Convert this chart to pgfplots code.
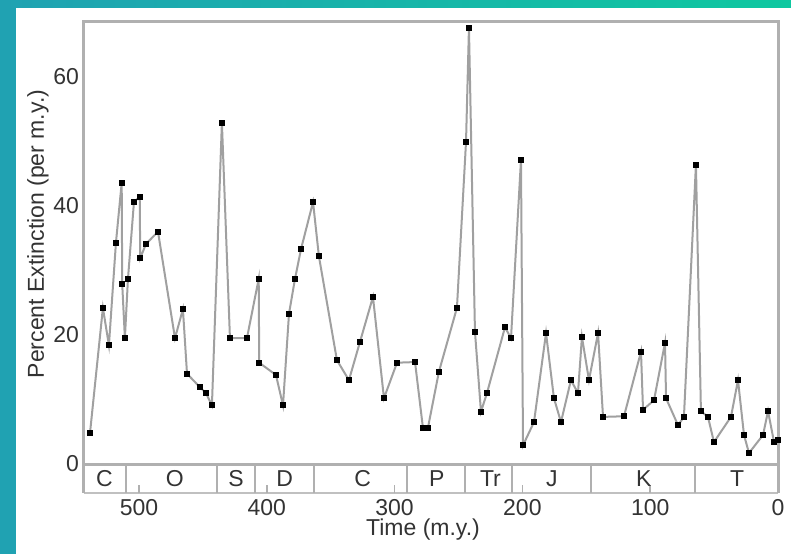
\documentclass[border=0pt]{standalone}
\usepackage{fontspec}
\setmainfont{Liberation Sans}
\usepackage{pgfplots}
\pgfplotsset{compat=1.18}
\definecolor{teal1}{RGB}{32,162,178}
\definecolor{teal2}{RGB}{14,200,160}
\definecolor{axgray}{RGB}{176,176,176}
\definecolor{lngray}{RGB}{160,160,160}
\begin{document}
\begin{tikzpicture}
\path[use as bounding box] (0,0) rectangle (395.5pt,277pt);
\fill[white] (0,0) rectangle (395.5pt,277pt);
\fill[teal1] (0,0) rectangle (8pt,277pt);
\shade[left color=teal1, right color=teal2] (0,273.5pt) rectangle (395.5pt,277pt);
\begin{axis}[
  at={(42pt,45pt)}, anchor=south west,
  width=347pt, height=221pt, scale only axis,
  xmin=0, xmax=543, x dir=reverse,
  ymin=0, ymax=68.5,
  axis line style={draw=axgray, line width=1.5pt},
  xtick={0,100,200,300,400,500},
  ytick={0,20,40,60},
  major tick length=0pt,
  tick label style={font=\fontsize{11.5}{13}\selectfont, text=black!80},
  /pgf/number format/assume math mode=true,
  xticklabel style={anchor=center, yshift=-22pt},
  yticklabel style={xshift=1pt},
  clip=false,
]
\addplot[color=lngray, line width=1pt, mark=square*, mark size=1pt,
  mark options={draw=black, fill=black}] coordinates {
(538.3,4.8) (528.2,24.2) (523.5,18.4) (518.0,34.3) (513.5,43.6) (513.1,27.9)
(511.0,19.5) (508.6,28.7) (503.9,40.6) (499.4,41.4) (499.0,31.9) (494.5,34.1)
(485.1,36.0) (471.8,19.5) (465.6,24.0) (462.4,14.0) (452.3,11.9) (447.6,11.0)
(442.9,9.1) (435.1,52.9) (428.8,19.5) (415.5,19.5) (406.3,28.7) (405.9,15.7)
(392.8,13.8) (387.3,9.1) (382.6,23.3) (377.9,28.7) (373.2,33.3) (363.8,40.6)
(359.2,32.2) (345.1,16.1) (335.7,13.0) (327.1,18.9) (316.9,25.9) (308.3,10.2)
(298.1,15.7) (284.0,15.8) (277.8,5.6) (273.9,5.6) (265.3,14.3) (251.2,24.2)
(244.1,49.9) (241.8,67.6) (237.1,20.5) (232.4,8.1) (227.7,11.0) (213.6,21.2)
(208.9,19.5) (201.1,47.1) (199.5,2.9) (190.9,6.5) (181.5,20.3) (175.3,10.2)
(169.8,6.5) (162.0,13.0) (156.5,11.0) (153.4,19.7) (147.9,13.0) (140.8,20.3)
(136.9,7.3) (120.5,7.4) (107.2,17.4) (105.6,8.4) (97.0,9.9) (88.4,18.8)
(87.6,10.2) (78.2,6.0) (73.6,7.3) (64.2,46.4) (60.3,8.2) (54.8,7.3)
(50.1,3.4) (36.8,7.3) (31.3,13.0) (26.6,4.5) (22.7,1.7) (11.7,4.5)
(7.8,8.2) (3.1,3.4) (0.3,3.7)
};
% period band
\draw[axgray!80, line width=1.2pt] (axis cs:543,-4.5) -- (axis cs:0,-4.5);
\draw[axgray, line width=1.5pt] (axis cs:0,0) -- (axis cs:0,-4.5);
\draw[axgray, line width=1.5pt] (axis cs:543,0) -- (axis cs:543,-4.5);
\pgfplotsinvokeforeach{510,439,409,363,290,245,208,146,65}{
  \draw[axgray, line width=1pt] (axis cs:#1,0) -- (axis cs:#1,-4.5);
}
\pgfplotsinvokeforeach{100,200,300,400,500}{
  \draw[axgray, line width=0.8pt] (axis cs:#1,-4.5) -- (axis cs:#1,-3.3);
}
\node[font=\fontsize{11.5}{13}\selectfont, text=black!80] at (axis cs:527,-2.25) {C};
\node[font=\fontsize{11.5}{13}\selectfont, text=black!80] at (axis cs:472,-2.25) {O};
\node[font=\fontsize{11.5}{13}\selectfont, text=black!80] at (axis cs:424,-2.25) {S};
\node[font=\fontsize{11.5}{13}\selectfont, text=black!80] at (axis cs:386,-2.25) {D};
\node[font=\fontsize{11.5}{13}\selectfont, text=black!80] at (axis cs:325,-2.25) {C};
\node[font=\fontsize{11.5}{13}\selectfont, text=black!80] at (axis cs:267,-2.25) {P};
\node[font=\fontsize{11.5}{13}\selectfont, text=black!80] at (axis cs:225,-2.25) {Tr};
\node[font=\fontsize{11.5}{13}\selectfont, text=black!80] at (axis cs:177,-2.25) {J};
\node[font=\fontsize{11.5}{13}\selectfont, text=black!80] at (axis cs:105,-2.25) {K};
\node[font=\fontsize{11.5}{13}\selectfont, text=black!80] at (axis cs:32,-2.25) {T};
\end{axis}
\node[rotate=90, font=\fontsize{11.5}{13}\selectfont, text=black!80] at (19pt,160pt) {Percent Extinction (per m.y.)};
\node[font=\fontsize{11.5}{13}\selectfont, text=black!80] at (211.5pt,12pt) {Time (m.y.)};
\end{tikzpicture}
\end{document}
